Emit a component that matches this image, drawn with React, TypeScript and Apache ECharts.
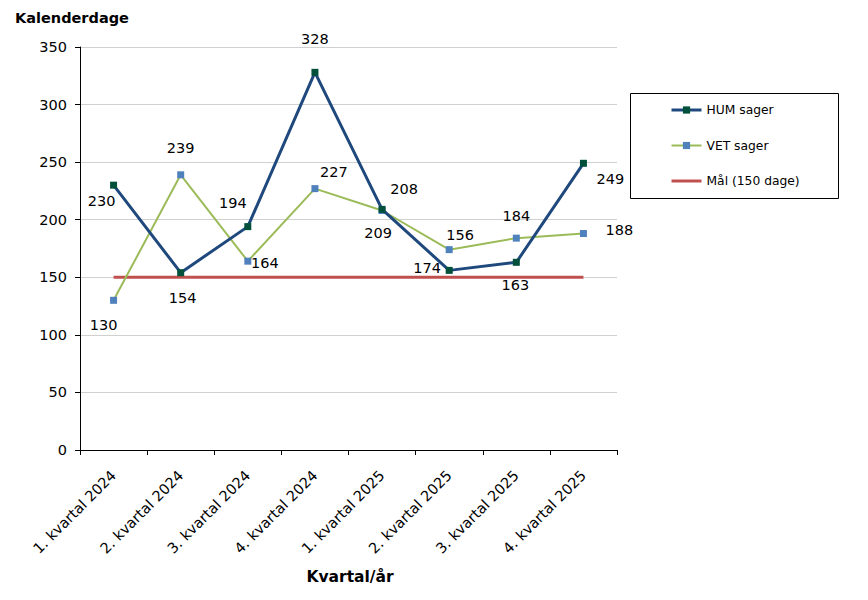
import React, { useEffect, useRef } from "react";
import * as echarts from "echarts";

const categories = [
  "1. kvartal 2024",
  "2. kvartal 2024",
  "3. kvartal 2024",
  "4. kvartal 2024",
  "1. kvartal 2025",
  "2. kvartal 2025",
  "3. kvartal 2025",
  "4. kvartal 2025",
];
const humValues = [230, 154, 194, 328, 209, 156, 163, 249];
const vetValues = [130, 239, 164, 227, 208, 174, 184, 188];
const goalValues = [150, 150, 150, 150, 150, 150, 150, 150];

const humLabelOffsets: [number, number][] = [
  [-12, 16], [2, 25], [-15, -24], [0, -33], [-4, 24], [11, -35], [-1, 23], [27, 16],
];
const vetLabelOffsets: [number, number][] = [
  [-10, 25], [0, -27], [17, 2], [19, -17], [22, -22], [-22, 18], [0, -22], [36, -4],
];

const FONT = "DejaVu Sans, Verdana, sans-serif";

export default function App() {
  const ref = useRef<HTMLDivElement>(null);
  useEffect(() => {
    if (!ref.current) return;
    const chart = echarts.init(ref.current, undefined, { renderer: "svg" });
    const mk = (vals: number[], offs: [number, number][]) =>
      vals.map((v, i) => ({
        value: v,
        label: { offset: offs[i] },
      }));
    chart.setOption({
      animation: false,
      backgroundColor: "#ffffff",
      textStyle: { fontFamily: FONT },
      grid: { left: 80, right: 251, top: 47, bottom: 150, containLabel: false },
      legend: {
        orient: "vertical",
        left: 670,
        top: 104,
        padding: 0,
        itemWidth: 30,
        itemHeight: 9,
        itemGap: 23.5,
        textStyle: { fontFamily: FONT, fontSize: 12.3, color: "#000" },
        data: [
          { name: "HUM sager", lineStyle: { width: 3 } },
          { name: "VET sager", lineStyle: { width: 2 } },
          { name: "Mål (150 dage)", lineStyle: { width: 3 } },
        ],
      },
      graphic: [
        {
          type: "rect",
          shape: { x: 630.5, y: 93.5, width: 208, height: 105 },
          style: { fill: "none", stroke: "#000", lineWidth: 1 },
          z: 10,
        },
        {
          type: "text",
          x: 15,
          y: 18,
          style: {
            text: "Kalenderdage",
            font: `bold 14.5px ${FONT}`,
            fill: "#000",
            textAlign: "left",
            textVerticalAlign: "middle",
          },
        },
        {
          type: "text",
          x: 350,
          y: 577,
          style: {
            text: "Kvartal/år",
            font: `bold 15.5px ${FONT}`,
            fill: "#000",
            textAlign: "center",
            textVerticalAlign: "middle",
          },
        },
      ],
      xAxis: {
        type: "category",
        data: categories,
        boundaryGap: true,
        axisLine: { lineStyle: { color: "#000", width: 1 } },
        axisTick: { show: true, length: 5, lineStyle: { color: "#000" } },
        axisLabel: {
          rotate: 45,
          interval: 0,
          fontSize: 14.5,
          color: "#000",
          fontFamily: FONT,
          margin: 23,
        },
        splitLine: { show: false },
      },
      yAxis: {
        type: "value",
        min: 0,
        max: 350,
        interval: 50,
        axisLine: { show: true, lineStyle: { color: "#000", width: 1 } },
        axisTick: { show: true, length: 5, lineStyle: { color: "#000" } },
        axisLabel: { fontSize: 14.5, color: "#000", fontFamily: FONT, margin: 13 },
        splitLine: { show: true, lineStyle: { color: "#d0d0d0", width: 1 } },
      },
      series: [
        {
          name: "Mål (150 dage)",
          type: "line",
          data: goalValues,
          showSymbol: false,
          symbol: "none",
          lineStyle: { color: "#C0504D", width: 3 },
          itemStyle: { color: "rgba(0,0,0,0)" },
          z: 1,
        },
        {
          name: "VET sager",
          type: "line",
          data: mk(vetValues, vetLabelOffsets),
          symbol: "rect",
          symbolSize: 7,
          lineStyle: { color: "#9BBB59", width: 2 },
          itemStyle: { color: "#4F81BD" },
          label: {
            show: true,
            position: "inside",
            fontSize: 14.5,
            color: "#000",
            fontFamily: FONT,
          },
          z: 2,
        },
        {
          name: "HUM sager",
          type: "line",
          data: mk(humValues, humLabelOffsets),
          symbol: "rect",
          symbolSize: 7,
          lineStyle: { color: "#1F497D", width: 3 },
          itemStyle: { color: "#00503C" },
          label: {
            show: true,
            position: "inside",
            fontSize: 14.5,
            color: "#000",
            fontFamily: FONT,
          },
          z: 3,
        },
      ],
    });
    return () => chart.dispose();
  }, []);
  return <div ref={ref} style={{ width: 868, height: 600, margin: -8 }} />;
}
